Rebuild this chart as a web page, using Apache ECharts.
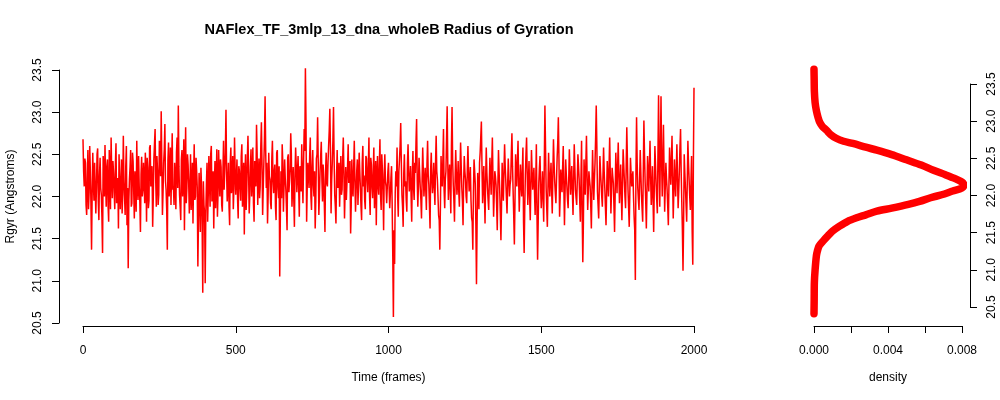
<!DOCTYPE html>
<html>
<head>
<meta charset="utf-8">
<script src="https://cdn.jsdelivr.net/npm/echarts@6/dist/echarts.min.js"></script>
<style>
html,body{margin:0;padding:0;background:#fff;}
#chart{width:1000px;height:400px;}
</style>
</head>
<body>
<div id="chart"></div>
<script>
// Rgyr (Angstroms).
// rgyrA: frames 0,4,8,...,2000   rgyrB: frames 2,6,10,...,1998
var FRAME_STEP = 4;
var rgyrA = [
22.68,22.12,22.40,21.78,22.55,22.05,22.30,21.37,22.52,21.95,22.38,22.10,22.57,21.72,22.46,22.02,21.33,22.35,22.61,21.88,22.44,21.70,22.25,22.70,21.98,
22.28,21.85,22.63,22.05,21.62,22.48,22.15,21.80,22.72,22.00,22.36,21.66,21.15,22.20,22.55,21.92,22.41,21.74,22.30,22.66,21.96,22.12,21.58,22.47,22.08,
22.18,22.52,21.70,22.34,21.95,22.61,22.10,21.64,22.45,22.80,21.88,22.30,22.02,22.57,23.01,21.78,22.40,22.86,22.08,21.37,22.64,22.20,21.90,22.75,22.12,
22.40,21.85,22.70,23.08,22.02,21.72,22.55,22.25,21.60,22.82,22.10,22.38,21.80,22.50,22.05,21.68,22.62,22.00,22.30,21.17,22.28,21.58,22.12,20.86,21.90,
20.97,22.15,21.70,22.48,21.88,22.60,22.05,21.62,22.42,22.18,21.76,22.55,22.00,22.35,21.82,22.66,22.10,23.03,21.94,22.40,21.66,22.58,22.20,21.85,22.70,
22.02,22.44,21.74,22.30,21.95,22.62,22.15,21.55,22.50,22.08,22.72,21.80,22.36,22.00,22.58,21.70,22.25,22.85,21.90,22.45,22.12,22.88,21.78,22.40,23.19,
22.10,21.68,22.52,22.20,21.85,22.66,22.04,22.38,21.72,22.55,21.98,21.05,22.30,22.62,21.82,22.44,22.08,21.60,22.50,22.18,22.75,21.88,22.35,21.64,22.58,
22.05,22.48,21.76,22.32,22.62,21.92,22.80,23.52,21.70,22.40,22.10,22.70,21.84,22.55,22.00,21.62,22.45,22.94,21.78,22.30,22.65,21.94,22.20,21.58,22.52,
22.12,22.60,23.04,21.80,22.40,23.06,22.02,21.68,22.55,22.20,21.88,22.48,22.08,22.70,21.74,22.35,21.96,22.62,22.15,21.56,22.44,22.00,22.66,21.82,22.30,
21.90,22.52,22.10,21.72,22.60,22.25,21.85,22.45,22.05,22.70,21.78,22.38,21.98,22.58,22.16,21.66,22.48,22.02,22.68,21.84,22.32,21.60,22.50,22.12,21.94,
22.40,21.86,22.22,21.90,20.57,21.20,22.30,22.58,21.76,22.44,22.87,22.02,21.64,22.50,22.18,21.82,22.62,22.06,22.36,21.70,22.54,21.96,22.28,22.92,21.88,
22.46,22.10,21.74,22.58,22.00,22.34,21.84,22.66,22.14,21.62,22.52,22.04,22.40,21.90,22.72,22.20,21.78,21.37,22.48,22.12,22.80,21.86,22.30,23.07,21.96,
22.38,21.80,23.06,22.14,21.70,22.55,22.02,22.42,21.88,22.64,22.10,21.66,22.48,22.20,21.92,22.60,22.06,22.35,21.75,21.37,22.44,22.15,20.96,22.28,21.85,
22.52,22.89,21.92,22.36,21.68,22.58,22.10,21.84,22.46,22.02,22.70,21.76,22.30,22.14,21.60,22.55,22.08,21.48,22.40,21.95,22.62,22.18,21.80,22.45,22.00,
22.20,22.75,22.05,21.43,22.50,22.12,22.66,21.82,22.38,22.00,22.58,21.33,22.26,22.70,21.90,22.42,21.72,22.55,22.08,22.34,21.78,22.62,21.25,22.16,22.48,
21.86,22.30,21.70,23.08,22.10,21.64,22.52,22.00,22.40,21.80,22.68,22.18,21.92,22.46,22.94,21.76,22.32,22.05,22.60,21.66,22.44,22.12,21.86,22.56,22.02,
22.36,21.78,22.62,22.08,21.90,22.50,22.20,21.70,22.66,21.22,22.44,22.02,22.72,21.84,22.30,22.12,21.62,22.55,21.96,22.40,23.08,22.06,21.74,22.48,22.15,
21.88,22.58,22.10,21.66,22.42,22.00,22.70,21.80,22.34,22.16,21.58,22.52,22.04,22.64,21.92,22.38,21.72,22.56,22.20,21.86,22.82,22.08,21.64,22.46,22.12,
22.30,21.76,21.01,22.94,22.10,21.84,22.55,22.02,21.70,22.90,22.18,21.62,22.48,22.06,22.66,21.90,22.36,21.58,22.60,22.14,21.80,23.20,21.88,23.19,22.00,
22.85,21.82,22.40,22.08,21.66,22.58,22.14,22.72,21.74,22.44,22.00,22.62,21.86,22.30,22.80,21.94,21.12,22.50,22.10,21.70,22.66,22.20,21.84,22.48,21.19,
23.29
];
var rgyrB = [
22.30,22.45,21.90,22.20,21.85,22.60,21.92,22.05,22.15,22.40,21.80,22.50,21.95,22.25,22.10,21.75,22.48,22.00,22.20,22.35,21.90,22.55,21.85,22.28,22.42,
22.05,22.38,21.92,22.22,22.50,21.85,22.44,22.02,22.18,21.78,22.60,22.10,21.96,22.35,21.88,22.52,22.06,22.30,21.82,22.15,22.48,21.94,22.26,22.00,22.40,
21.92,22.28,22.46,21.86,22.58,22.12,22.36,21.98,22.62,22.20,22.48,21.90,22.66,22.24,22.40,22.05,22.55,22.18,21.84,22.42,22.00,22.58,22.32,22.08,21.90,
22.20,22.52,22.10,22.36,21.88,22.44,22.00,22.68,22.28,21.92,22.50,22.15,22.06,21.84,22.40,22.22,21.96,22.46,22.10,21.72,22.02,22.34,21.64,22.18,21.80,
21.80,22.40,22.02,22.20,22.50,21.94,22.30,22.12,21.86,22.56,22.04,22.24,22.44,21.90,22.28,22.08,22.52,22.30,22.16,21.88,22.40,22.04,22.48,22.10,22.30,
22.22,21.96,22.36,22.10,22.48,21.88,22.40,22.20,21.84,22.46,22.30,22.02,22.56,22.18,21.92,22.42,22.12,22.50,22.25,21.98,22.60,22.38,22.10,22.70,22.55,
22.40,22.00,22.24,21.92,22.44,22.18,22.30,21.88,22.52,22.10,22.36,21.78,21.98,22.40,22.12,22.22,21.86,22.46,22.05,22.32,22.50,22.10,21.96,22.28,22.36,
22.28,22.10,22.36,22.06,22.20,22.40,22.54,22.86,22.12,22.26,22.48,22.00,22.36,22.14,22.30,21.94,22.50,22.40,22.02,22.48,22.20,22.38,21.90,22.30,22.16,
22.40,22.78,22.56,22.20,22.66,22.44,21.88,22.24,22.10,22.40,22.18,22.02,22.44,22.30,22.06,21.96,22.36,22.16,22.42,21.90,22.12,22.34,22.20,22.06,22.44,
22.16,22.30,21.88,22.40,22.12,21.96,22.48,22.20,22.36,22.00,22.46,22.10,22.28,21.86,22.42,22.20,22.12,22.36,22.00,22.50,22.06,22.26,22.18,21.92,22.30,
22.10,22.02,22.36,21.30,21.60,22.04,22.12,22.00,22.30,22.60,22.40,21.88,22.28,22.12,21.96,22.40,22.30,22.16,22.00,22.28,22.10,22.40,22.64,22.20,22.14,
22.28,21.96,22.20,22.30,22.16,22.08,22.40,22.26,21.90,22.32,22.20,22.18,22.10,22.40,22.30,22.00,21.72,21.90,22.22,22.44,22.08,22.20,22.68,22.40,22.20,
22.10,22.60,22.42,21.96,22.20,22.28,22.16,22.06,22.30,22.36,21.94,22.18,22.30,22.00,22.32,22.28,22.20,21.96,21.70,22.04,22.30,21.66,21.70,22.06,22.40,
22.70,22.36,22.14,22.00,22.20,22.28,21.96,22.18,22.24,22.40,22.20,22.02,22.24,21.90,22.12,22.30,21.80,21.90,22.12,22.30,22.36,21.98,22.14,22.24,22.14,
22.50,22.36,21.76,21.94,22.30,22.42,22.20,22.08,22.16,22.30,21.70,21.86,22.50,22.28,22.18,22.00,22.14,22.30,22.20,22.04,22.18,21.80,21.70,22.34,22.10,
22.06,21.98,22.40,22.58,21.86,22.10,22.24,22.22,22.08,22.26,22.40,22.04,22.20,22.64,22.44,22.00,22.16,22.34,22.10,22.06,22.26,21.96,22.20,22.30,22.22,
22.04,22.20,22.34,21.98,22.20,22.36,21.94,22.20,21.80,21.70,22.22,22.40,22.26,22.06,22.20,21.90,22.10,22.24,22.20,22.70,22.60,21.90,22.12,22.30,22.00,
22.24,22.30,21.88,22.04,22.20,22.36,22.26,22.06,22.24,21.88,22.04,22.28,22.36,22.26,22.16,22.02,22.14,22.38,22.00,22.34,22.44,21.86,22.06,22.28,22.10,
22.00,21.60,22.30,22.40,21.96,22.20,22.28,21.86,22.30,22.50,21.94,22.06,22.28,22.36,22.24,22.10,21.94,22.10,22.38,21.96,22.50,22.40,22.56,22.42,22.40,
22.30,22.12,22.22,21.88,22.14,22.38,22.40,22.20,22.06,22.20,22.30,22.24,22.06,22.58,22.30,21.60,21.70,22.28,21.90,22.18,22.40,22.00,22.16,21.60,22.40
];

// Density curve (rotated): Rgyr value and its density
var densValue = [23.70,23.55,23.40,23.25,23.14,23.05,22.99,22.93,22.88,22.82,22.77,22.73,22.70,22.65,22.61,22.55,22.48,22.41,22.34,22.28,22.23,22.18,22.14,22.10,22.06,22.01,21.97,21.92,21.88,21.83,21.79,21.74,21.70,21.65,21.59,21.52,21.46,21.39,21.32,21.25,21.19,21.00,20.83,20.60,20.41];
var densDensity = [0,0.00001,0.00002,0.00006,0.00013,0.00022,0.0003,0.00045,0.00067,0.0009,0.0012,0.0016,0.0021,0.0028,0.0034,0.0042,0.0050,0.0058,0.00646,0.0071,0.0076,0.0080,0.0081,0.0080,0.0075,0.0069,0.0063,0.0057,0.0051,0.0042,0.0034,0.0028,0.0023,0.0018,0.0014,0.0010,0.00076,0.0005,0.00027,0.00018,0.00013,0.00006,0.00002,0.00001,0];

var timeTicks = [0, 2000];
var rgyrTicks = [20.5, 23.5];
var densTicks = [0, 0.008];

var lineData = [];
for (var i = 0; i < rgyrA.length; i++) {
  lineData.push([i * FRAME_STEP, rgyrA[i]]);
  if (i < rgyrB.length) lineData.push([i * FRAME_STEP + FRAME_STEP / 2, rgyrB[i]]);
}
var densData = densValue.map(function(v, i){ return [densDensity[i], v]; });

var FONT = 'Liberation Sans, Arial, Helvetica, sans-serif';
function ax(o){
  o.axisLine = {show: true, onZero: false, lineStyle: {color: '#000', width: 1}};
  o.axisTick = {show: true, length: 7, lineStyle: {color: '#000', width: 1}};
  o.splitLine = {show: false};
  o.nameTextStyle = {color: '#000', fontSize: 12, fontFamily: FONT};
  o.axisLabel.color = '#000'; o.axisLabel.fontSize = 12; o.axisLabel.fontFamily = FONT;
  return o;
}
function f1(v){ return v.toFixed(1); }

var chart = echarts.init(document.getElementById('chart'), null, {renderer: 'canvas'});
chart.setOption({
  backgroundColor: '#fff',
  animation: false,
  graphic: [{
    type: 'text', x: 389, y: 30,
    style: {text: 'NAFlex_TF_3mlp_13_dna_wholeB Radius of Gyration', fill: '#000',
      font: 'bold 14.5px ' + FONT, textAlign: 'center', textVerticalAlign: 'middle'}
  }],
  grid: [
    {left: 83, right: 306, top: 70, bottom: 77, containLabel: false, outerBoundsMode: 'none'},
    {left: 814, right: 38, top: 84, bottom: 93, containLabel: false, outerBoundsMode: 'none'}
  ],
  xAxis: [
    ax({type: 'value', gridIndex: 0, min: timeTicks[0], max: timeTicks[1], interval: 500, position: 'bottom', offset: 3,
      name: 'Time (frames)', nameLocation: 'middle', nameGap: 46,
      axisLabel: {margin: 19, formatter: function(v){ return String(v); }}}),
    ax({type: 'value', gridIndex: 1, min: densTicks[0], max: densTicks[1], interval: 0.002, position: 'bottom', offset: 19,
      name: 'density', nameLocation: 'middle', nameGap: 46,
      axisLabel: {margin: 19, formatter: function(v){ var r = Math.round(v * 1000) ; return (r % 4 === 0) ? v.toFixed(3) : ''; }}})
  ],
  yAxis: [
    ax({type: 'value', gridIndex: 0, min: rgyrTicks[0], max: rgyrTicks[1], interval: 0.5, position: 'left', offset: 24,
      name: 'Rgyr (Angstroms)', nameLocation: 'middle', nameGap: 42, nameRotate: 90,
      axisLabel: {rotate: 90, margin: 15, formatter: f1}}),
    ax({type: 'value', gridIndex: 1, min: rgyrTicks[0], max: rgyrTicks[1], interval: 0.5, position: 'right', offset: 8,
      axisLabel: {rotate: 90, margin: 16, formatter: f1}})
  ],
  series: [
    {type: 'line', xAxisIndex: 0, yAxisIndex: 0, data: lineData, showSymbol: false, symbol: 'none', clip: false,
      lineStyle: {color: '#ff0000', width: 1.5}},
    {type: 'line', xAxisIndex: 1, yAxisIndex: 1, data: densData, showSymbol: false, symbol: 'none', clip: false, smooth: 0.3,
      lineStyle: {color: '#ff0000', width: 7.5, cap: 'round', join: 'round'}}
  ]
});
</script>
</body>
</html>
